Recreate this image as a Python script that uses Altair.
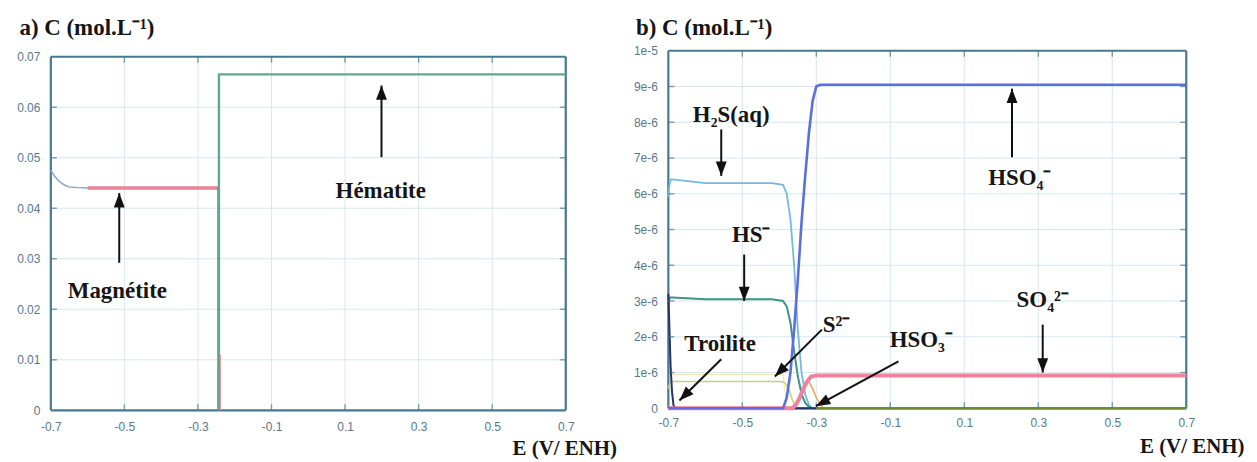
import altair as alt
import pandas as pd
import numpy as np

# ================= Panel a) iron oxides : C (mol/L) vs E (V/ENH) =================
a_xticks = [-0.7, -0.5, -0.3, -0.1, 0.1, 0.3, 0.5, 0.7]
a_yticks = [0.0, 0.01, 0.02, 0.03, 0.04, 0.05, 0.06, 0.07]

E_mag_start = [-0.70, -0.69, -0.68, -0.67, -0.66, -0.65, -0.63, -0.60, -0.50, -0.40, -0.30, -0.245]
C_mag_start = [0.0475, 0.0464, 0.0455, 0.0449, 0.0445, 0.0442, 0.0441, 0.0440, 0.0440, 0.0440, 0.0440, 0.0440]
E_magnetite = [-0.60, -0.50, -0.40, -0.30, -0.245]
C_magnetite = [0.0440, 0.0440, 0.0440, 0.0440, 0.0440]
E_mag_drop = [-0.245, -0.245]
C_mag_drop = [0.0440, 0.0]
E_mag_drop2 = [-0.240, -0.240]
C_mag_drop2 = [0.0110, 0.0]
E_hematite = [-0.243, -0.243, 0.70]
C_hematite = [0.0, 0.0665, 0.0665]

a_label_text = ["Hématite", "Magnétite"]
a_label_E = [0.197, -0.519]
a_label_C = [0.0434, 0.0237]
a_arrow_E0 = [0.199, -0.514]
a_arrow_C0 = [0.0501, 0.0292]
a_arrow_E1 = [0.199, -0.514]
a_arrow_C1 = [0.0643, 0.0430]

# ================= Panel b) sulfur species : C (1e-6 mol/L) =================
b_xticks = [-0.7, -0.5, -0.3, -0.1, 0.1, 0.3, 0.5, 0.7]
b_yticks_u = [0, 1, 2, 3, 4, 5, 6, 7, 8, 9, 10]

E_h2s = [-0.700, -0.697, -0.693, -0.690, -0.60, -0.50, -0.42, -0.39, -0.38, -0.37, -0.36, -0.35, -0.34, -0.33, -0.32, -0.31, 0.70]
C_h2s = [5.9, 6.25, 6.4, 6.4, 6.3, 6.3, 6.3, 6.25, 6.0, 5.3, 4.0, 2.2, 1.0, 0.4, 0.1, 0.0, 0.0]
E_hs = [-0.700, -0.696, -0.690, -0.60, -0.50, -0.42, -0.39, -0.38, -0.37, -0.36, -0.35, -0.34, -0.33, -0.32, -0.31, 0.70]
C_hs = [2.9, 3.1, 3.1, 3.05, 3.05, 3.05, 3.0, 2.85, 2.4, 1.6, 0.9, 0.4, 0.15, 0.04, 0.0, 0.0]
E_s2 = [-0.700, -0.695, -0.60, -0.50, -0.40, -0.385, -0.375, -0.365, -0.355, 0.70]
C_s2 = [0.55, 0.75, 0.75, 0.75, 0.75, 0.72, 0.55, 0.25, 0.0, 0.0]
E_pale = [-0.695, -0.50, -0.39, -0.38]
C_pale = [0.95, 0.95, 0.95, 0.0]
E_troilite = [-0.700, -0.697, -0.694, -0.690, -0.686, -0.680, -0.30]
C_troilite = [3.2, 2.2, 1.2, 0.45, 0.08, 0.0, 0.0]
E_hso4 = [-0.70, -0.39, -0.38, -0.37, -0.36, -0.35, -0.34, -0.33, -0.32, -0.31, -0.30, -0.29, 0.70]
C_hso4 = [0.0, 0.0, 0.3, 1.0, 2.2, 3.6, 5.2, 6.5, 7.7, 8.6, 9.0, 9.05, 9.05]
E_so4 = [-0.70, -0.365, -0.355, -0.345, -0.335, -0.325, -0.315, -0.30, 0.70]
C_so4 = [0.0, 0.0, 0.1, 0.3, 0.55, 0.75, 0.88, 0.92, 0.92]
E_hso3 = [-0.36, -0.35, -0.34, -0.33, -0.32, -0.31, -0.30, -0.29, -0.28]
C_hso3 = [0.0, 0.2, 0.45, 0.7, 0.75, 0.55, 0.3, 0.12, 0.0]
E_base = [-0.30, 0.70]
C_base = [0.0, 0.0]

b_label_text = ["H₂S(aq)", "HS⁻", "Troilite", "S²⁻", "HSO₃⁻", "SO₄²⁻", "HSO₄⁻"]
b_label_E = [-0.530, -0.476, -0.560, -0.245, -0.016, 0.312, 0.250]
b_label_C = [8.20, 4.85, 1.80, 2.34, 1.92, 3.04, 6.43]
b_arrow_E0 = [-0.557, -0.495, -0.557, -0.285, -0.078, 0.312, 0.229]
b_arrow_C0 = [7.80, 4.30, 1.37, 2.20, 1.31, 2.34, 7.02]
b_arrow_E1 = [-0.557, -0.495, -0.670, -0.412, -0.301, 0.312, 0.229]
b_arrow_C1 = [6.50, 3.00, 0.22, 0.89, 0.06, 1.00, 8.94]

# ================= styling =================
FRAME = "#46798f"
GRID = "#d6e7f1"
LABEL = "#56798c"
INK = "#151515"
SERIF = "Liberation Serif"
SANS = "Liberation Sans"
HEAD = "M0,0L0.72,1.9L-0.72,1.9Z"
U = 1e-6

a_series = [
    (E_mag_start, C_mag_start, "#8fa9d0", 1.6),
    (E_magnetite, C_magnetite, "#ee8096", 3.5),
    (E_mag_drop, C_mag_drop, "#6d6a3c", 1.6),
    (E_mag_drop2, C_mag_drop2, "#f08a9c", 1.6),
    (E_hematite, C_hematite, "#5ea98d", 2.4),
]
b_series = [
    (E_pale, [v * U for v in C_pale], "#f1e9b0", 1.2),
    (E_s2, [v * U for v in C_s2], "#c2d47a", 1.5),
    (E_h2s, [v * U for v in C_h2s], "#74b9e0", 1.8),
    (E_hs, [v * U for v in C_hs], "#3d9483", 2.0),
    (E_troilite, [v * U for v in C_troilite], "#27306b", 2.0),
    (E_hso3, [v * U for v in C_hso3], "#eba45a", 1.5),
    (E_so4, [v * U for v in C_so4], "#f0839b", 4.0),
    (E_hso4, [v * U for v in C_hso4], "#5c6fe0", 2.6),
    (E_base, [v * U for v in C_base], "#6e8b2e", 2.0),
]


def panel(series, xticks, yticks, ymax, width, height, yrange, ytitle, ytitle_xy,
          xtitle_xy, ylabel_expr, xlab_pad, labels, arrows):
    xs = alt.Scale(domain=[-0.7, 0.7], nice=False, zero=False)
    ys = alt.Scale(domain=[0, ymax], nice=False, zero=False, range=yrange)
    xaxis = alt.Axis(values=xticks, grid=False, domain=False, ticks=False, tickSize=0,
                     labelExpr="replace(format(datum.value, '.1f'), '\u2212', '-')",
                     labelFont=SANS, labelFontSize=12, labelColor=LABEL, labelPadding=xlab_pad,
                     labelFlush=False,
                     title="E (V/ ENH)", titleFont=SERIF, titleFontSize=21, titleFontWeight="bold",
                     titleColor=INK, titleAlign="right", titleBaseline="middle",
                     titleX=xtitle_xy[0], titleY=xtitle_xy[1])
    yaxis = alt.Axis(values=yticks, grid=False, domain=False, ticks=False, tickSize=0,
                     labelExpr=ylabel_expr, labelFont=SANS, labelFontSize=12, labelColor=LABEL,
                     labelPadding=11, labelFlush=False,
                     title=ytitle, titleFont=SERIF, titleFontSize=23, titleFontWeight="bold",
                     titleColor=INK, titleAngle=0, titleAlign="left", titleBaseline="middle",
                     titleX=ytitle_xy[0], titleY=ytitle_xy[1])

    def X(f):
        return alt.X(f, type="quantitative", scale=xs, axis=xaxis)

    def Y(f):
        return alt.Y(f, type="quantitative", scale=ys, axis=yaxis)

    layers = []
    # grid lines at the labelled ticks
    gv = pd.DataFrame({"x0": xticks[1:-1], "y0": 0.0, "y1": ymax})
    layers.append(alt.Chart(gv).mark_rule(color=GRID, strokeWidth=1).encode(
        x=X("x0"), y=Y("y0"), y2="y1:Q"))
    gh = pd.DataFrame({"y0": yticks[1:-1], "x0": -0.7, "x1": 0.7})
    layers.append(alt.Chart(gh).mark_rule(color=GRID, strokeWidth=1).encode(
        x=X("x0"), x2="x1:Q", y=Y("y0")))
    # box around the plot
    fr = pd.DataFrame({"x0": [-0.7, -0.7, -0.7, 0.7], "x1": [0.7, 0.7, -0.7, 0.7],
                       "y0": [0.0, ymax, 0.0, 0.0], "y1": [0.0, ymax, ymax, ymax]})
    layers.append(alt.Chart(fr).mark_rule(color=FRAME, strokeWidth=2.2).encode(
        x=X("x0"), x2="x1:Q", y=Y("y0"), y2="y1:Q"))
    # curves
    for E, C, col, w in series:
        df = pd.DataFrame({"E": E, "C": C, "i": list(range(len(E)))})
        layers.append(alt.Chart(df).mark_line(color=col, strokeWidth=w).encode(
            x=X("E"), y=Y("C"), order="i:Q"))
    # inward ticks on all four sides
    tx = pd.DataFrame({"x0": xticks[1:-1], "yb": 0.0, "yt": ymax})
    layers.append(alt.Chart(tx).mark_tick(orient="vertical", size=6, thickness=1.4,
                                          color=FRAME, yOffset=-3).encode(x=X("x0"), y=Y("yb")))
    layers.append(alt.Chart(tx).mark_tick(orient="vertical", size=6, thickness=1.4,
                                          color=FRAME, yOffset=3).encode(x=X("x0"), y=Y("yt")))
    ty = pd.DataFrame({"y0": yticks[1:-1], "xl": -0.7, "xr": 0.7})
    layers.append(alt.Chart(ty).mark_tick(orient="horizontal", size=6, thickness=1.4,
                                          color=FRAME, xOffset=3).encode(x=X("xl"), y=Y("y0")))
    layers.append(alt.Chart(ty).mark_tick(orient="horizontal", size=6, thickness=1.4,
                                          color=FRAME, xOffset=-3).encode(x=X("xr"), y=Y("y0")))
    # annotations
    lt, lE, lC = labels
    ldf = pd.DataFrame({"t": lt, "E": lE, "C": lC})
    layers.append(alt.Chart(ldf).mark_text(font=SERIF, fontSize=23, fontWeight="bold",
                                           color=INK, baseline="middle", align="center").encode(
        x=X("E"), y=Y("C"), text="t:N"))
    E0, C0, E1, C1 = arrows
    ppx = width / 1.4
    ppy = (yrange[0] - yrange[1]) / ymax
    dx = (np.array(E1) - np.array(E0)) * ppx
    dy = -(np.array(C1) - np.array(C0)) * ppy
    ang = (np.degrees(np.arctan2(dx, -dy)) + 360.0) % 360.0
    adf = pd.DataFrame({"E0": E0, "C0": C0, "E1": E1, "C1": C1, "ang": ang})
    layers.append(alt.Chart(adf).mark_rule(color="#111111", strokeWidth=2).encode(
        x=X("E0"), x2="E1:Q", y=Y("C0"), y2="C1:Q"))
    layers.append(alt.Chart(adf).mark_point(shape=HEAD, filled=True, size=230, color="#111111",
                                            opacity=1, strokeWidth=0).encode(
        x=X("E1"), y=Y("C1"), angle=alt.Angle("ang:Q", scale=None)))
    return alt.layer(*layers).properties(width=width, height=height)


left = panel(a_series, a_xticks, a_yticks, 0.07, 517, 361, [361, 6],
             "a) C (mol.L⁻¹)", (-32, -23), (568, 38),
             "format(datum.value, '.2~f')", 11,
             (a_label_text, a_label_E, a_label_C),
             (a_arrow_E0, a_arrow_C0, a_arrow_E1, a_arrow_C1))

right = panel(b_series, b_xticks, [v * U for v in b_yticks_u], 10 * U, 520, 359, [359, 0],
              "b) C (mol.L⁻¹)", (-33, -23), (578, 38),
              "datum.value == 0 ? '0' : format(datum.value, '.0e')", 9,
              (b_label_text, b_label_E, [v * U for v in b_label_C]),
              (b_arrow_E0, [v * U for v in b_arrow_C0], b_arrow_E1, [v * U for v in b_arrow_C1]))

chart = alt.hconcat(left, right, spacing=16).properties(
    padding={"left": 8, "top": 8, "right": 5, "bottom": 5}
).configure_view(strokeWidth=0)

chart.save("out.html", embed_options={"renderer": "svg", "actions": False})
